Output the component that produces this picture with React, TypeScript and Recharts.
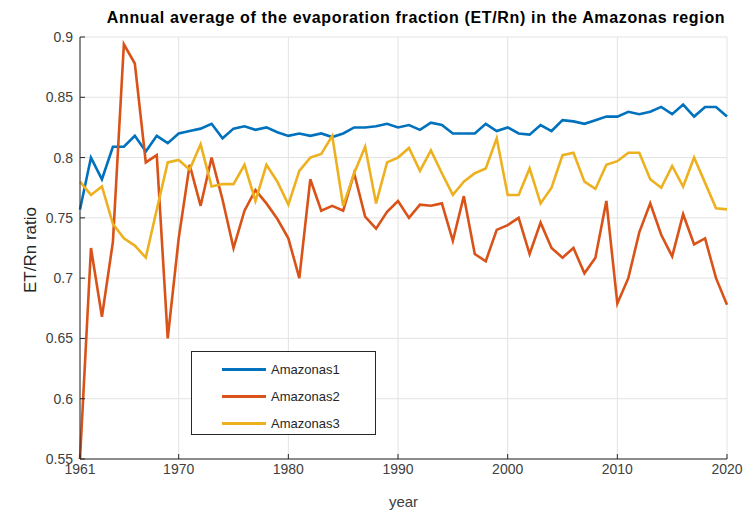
import { LineChart, Line, XAxis, YAxis, CartesianGrid } from 'recharts';

const years = Array.from({ length: 60 }, (_, i) => 1961 + i);

const amazonas1 = [
  0.757, 0.800, 0.782, 0.809, 0.809, 0.818, 0.805, 0.818, 0.812, 0.820,
  0.822, 0.824, 0.828, 0.816, 0.824, 0.826, 0.823, 0.825, 0.821, 0.818,
  0.820, 0.818, 0.820, 0.817, 0.820, 0.825, 0.825, 0.826, 0.828, 0.825,
  0.827, 0.823, 0.829, 0.827, 0.820, 0.820, 0.820, 0.828, 0.822, 0.825,
  0.820, 0.819, 0.827, 0.822, 0.831, 0.830, 0.828, 0.831, 0.834, 0.834,
  0.838, 0.836, 0.838, 0.842, 0.836, 0.844, 0.834, 0.842, 0.842, 0.834,
];

const amazonas2 = [
  0.550, 0.725, 0.668, 0.730, 0.894, 0.878, 0.796, 0.802, 0.650, 0.733,
  0.794, 0.760, 0.800, 0.765, 0.725, 0.756, 0.773, 0.762, 0.749, 0.733,
  0.700, 0.782, 0.756, 0.760, 0.756, 0.787, 0.751, 0.741, 0.755, 0.764,
  0.750, 0.761, 0.760, 0.762, 0.731, 0.768, 0.720, 0.714, 0.740, 0.744,
  0.750, 0.720, 0.746, 0.725, 0.717, 0.725, 0.704, 0.717, 0.764, 0.679,
  0.700, 0.738, 0.762, 0.736, 0.718, 0.753, 0.728, 0.733, 0.700, 0.678,
];

const amazonas3 = [
  0.780, 0.769, 0.776, 0.745, 0.733, 0.727, 0.717, 0.757, 0.796, 0.798,
  0.790, 0.811, 0.776, 0.778, 0.778, 0.794, 0.764, 0.794, 0.780, 0.761,
  0.789, 0.800, 0.803, 0.818, 0.760, 0.787, 0.809, 0.762, 0.796, 0.800,
  0.808, 0.789, 0.806, 0.787, 0.769, 0.780, 0.787, 0.791, 0.816, 0.769,
  0.769, 0.791, 0.762, 0.775, 0.802, 0.804, 0.780, 0.774, 0.794, 0.797,
  0.804, 0.804, 0.782, 0.775, 0.793, 0.776, 0.800, 0.779, 0.758, 0.757,
];

const xTicks = [1961, 1970, 1980, 1990, 2000, 2010, 2020];
const yTicks = [0.55, 0.6, 0.65, 0.7, 0.75, 0.8, 0.85, 0.9];

const seriesNames = ['Amazonas1', 'Amazonas2', 'Amazonas3'];
const colors = ['#0072BD', '#D95319', '#EDB120'];

const data = years.map((year, i) => ({
  year,
  Amazonas1: amazonas1[i],
  Amazonas2: amazonas2[i],
  Amazonas3: amazonas3[i],
}));

const FONT = 'Liberation Sans, Arial, sans-serif';

// boxed legend like MATLAB's, laid over the plot
const BoxLegend = () => (
  <div
    style={{
      position: 'absolute',
      left: 191,
      top: 351,
      width: 185,
      height: 84,
      border: '1px solid #262626',
      background: '#fff',
      boxSizing: 'border-box',
      paddingTop: 4,
    }}
  >
    {seriesNames.map((name, i) => (
      <div key={name} style={{ display: 'flex', alignItems: 'center', height: 27, paddingLeft: 30 }}>
        <div style={{ width: 44, height: 3, background: colors[i], marginRight: 5 }} />
        <span style={{ fontFamily: FONT, fontSize: 13, color: '#262626' }}>{name}</span>
      </div>
    ))}
  </div>
);

const App = () => {
  return (
    <div style={{ position: 'absolute', left: 0, top: 0, width: 755, height: 514, background: '#fff' }}>
      <div
        style={{
          position: 'absolute',
          left: 60,
          width: 712,
          top: 9,
          textAlign: 'center',
          fontFamily: FONT,
          fontWeight: 'bold',
          fontSize: 16,
          color: '#000',
          letterSpacing: 0.65,
          whiteSpace: 'nowrap',
        }}
      >
        Annual average of the evaporation fraction (ET/Rn) in the Amazonas region
      </div>
      <LineChart width={755} height={514} data={data} margin={{ top: 37, right: 28, bottom: 15, left: 20 }}>
        <CartesianGrid stroke="#e3e3e3" strokeWidth={1} />
        <XAxis
          dataKey="year"
          type="number"
          domain={[1961, 2020]}
          ticks={xTicks}
          height={40}
          tick={{ fontSize: 14, fill: '#404040', fontFamily: FONT }}
          tickSize={-5}
          tickMargin={10}
          stroke="#262626"
          label={{ value: 'year', position: 'insideBottom', offset: -8, fontSize: 15, fill: '#404040', fontFamily: FONT }}
        />
        <YAxis
          type="number"
          domain={[0.55, 0.9]}
          ticks={yTicks}
          width={60}
          allowDataOverflow
          tick={{ fontSize: 14, fill: '#404040', fontFamily: FONT }}
          tickSize={-5}
          tickMargin={12}
          tickFormatter={(v: number) => String(Number(v.toFixed(2)))}
          stroke="#262626"
          label={{ value: 'ET/Rn ratio', angle: -90, position: 'insideLeft', offset: 10, dy: 45, fontSize: 17, fill: '#262626', fontFamily: FONT }}
        />
        {seriesNames.map((name, i) => (
          <Line
            key={name}
            dataKey={name}
            stroke={colors[i]}
            strokeWidth={2.6}
            dot={false}
            isAnimationActive={false}
          />
        ))}
      </LineChart>
      <BoxLegend />
    </div>
  );
};

export default App;
